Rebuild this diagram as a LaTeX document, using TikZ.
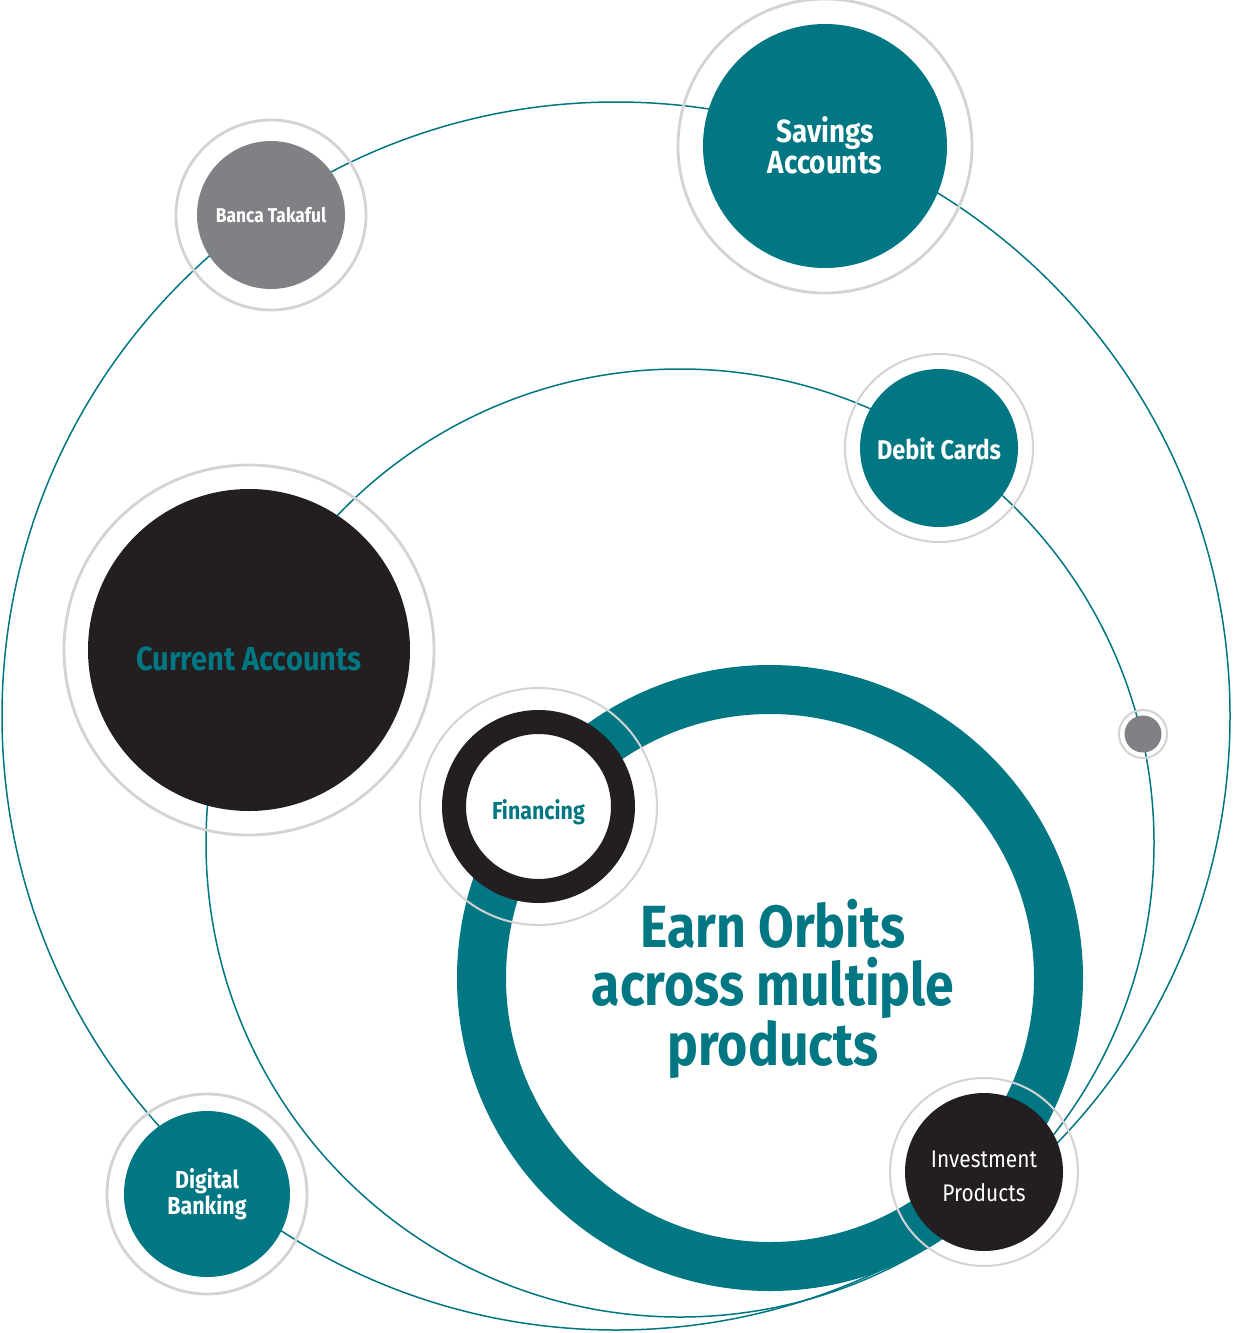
\documentclass[tikz,border=0pt]{standalone}
\usepackage{fontspec}
\setmainfont{Fira Sans}[FakeStretch=0.87]
\definecolor{tealc}{RGB}{0,119,130}
\definecolor{darkc}{RGB}{35,31,32}
\definecolor{grayc}{RGB}{128,129,133}
\definecolor{halocol}{RGB}{210,211,213}
\newcommand{\dropby}[2]{\raisebox{-#1}[\height][\depth]{#2}}
\begin{document}
\begin{tikzpicture}[x=0.5pt,y=-0.5pt,
  orbit/.style={circle, draw=tealc, line width=0.75pt, inner sep=0pt},
  planet/.style={circle, inner sep=0pt, align=center, text=white},
  halo/.style={draw=halocol, line width=1.4pt},
  thinhalo/.style={draw=halocol, line width=1pt},
]
\useasboundingbox (0,0) rectangle (1233,1333);
\fill[white] (0,0) rectangle (1233,1333);

% orbits
\node[orbit, minimum size=614pt] (outerorbit) at (616,716) {};
\node[orbit, minimum size=474pt] (innerorbit) at (680,843) {};

% central ring
\node[circle, draw=tealc, line width=24.5pt, minimum size=288.5pt, inner sep=0pt] (hub) at (770,978) {};
\node[align=center, text=tealc, font=\fontsize{29.75}{29}\selectfont\bfseries] (title) at (773,989) {Earn Orbits\\across multiple\\products};

% planets
\node[planet, fill=tealc, minimum size=122pt, font=\fontsize{16}{13.6}\selectfont\bfseries] (savings) at (825,146) {\dropby{1.5pt}{\begin{tabular}{@{}c@{}}Savings\\Accounts\end{tabular}}};
\draw[halo] (savings.center) circle[radius=147];

\node[planet, fill=grayc, minimum size=74pt, font=\fontsize{10}{12}\selectfont\bfseries] (banca) at (271,215) {Banca Takaful};
\draw[halo] (banca.center) circle[radius=95];

\node[planet, fill=tealc, minimum size=79pt, font=\fontsize{13.5}{15}\selectfont\bfseries] (debit) at (939,448) {\dropby{0.5pt}{Debit Cards}};
\draw[thinhalo] (debit.center) circle[radius=94];

\node[planet, fill=darkc, text=tealc, minimum size=161pt, font=\fontsize{16.7}{18}\selectfont\bfseries] (current) at (249,650) {\dropby{4.5pt}{Current Accounts}};
\draw[halo] (current.center) circle[radius=185];

\node[planet, fill=tealc, minimum size=83pt, font=\fontsize{12.3}{13}\selectfont\bfseries] (digital) at (207,1194) {Digital\\Banking};
\draw[halo] (digital.center) circle[radius=100];

\node[planet, fill=darkc, minimum size=79pt, font=\fontsize{12}{17}\selectfont] (invest) at (984,1172) {\dropby{3pt}{\begin{tabular}{@{}c@{}}Investment\\Products\end{tabular}}};
\draw[thinhalo] (invest.center) circle[radius=94];

\node[planet, fill=white, draw=darkc, line width=12pt, text=tealc, minimum size=84.5pt, font=\fontsize{12.3}{14}\selectfont\bfseries] (financing) at (538.5,806.5) {\dropby{3pt}{Financing}};
\draw[thinhalo] (financing.center) circle[radius=118.5];

\node[planet, fill=grayc, minimum size=18.5pt] (dot) at (1143,734) {};
\draw[thinhalo] (dot.center) circle[radius=24];
\end{tikzpicture}
\end{document}
